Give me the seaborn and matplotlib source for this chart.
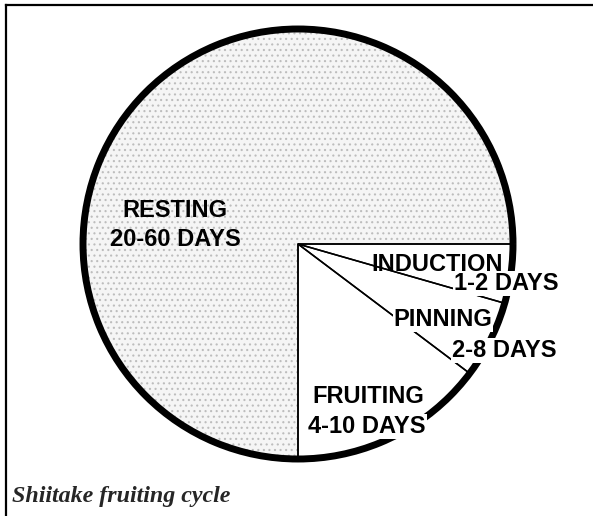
import matplotlib
matplotlib.use("Agg")
import matplotlib.pyplot as plt
import seaborn as sns
from matplotlib.patches import Arc

sns.set_theme(style="white")
plt.rcParams['hatch.linewidth'] = 0.8

# Shiitake fruiting cycle, share of circle (degrees)
stages = ['INDUCTION', 'PINNING', 'FRUITING', 'RESTING']
durations = ['1-2 DAYS', '2-8 DAYS', '4-10 DAYS', '20-60 DAYS']
share_deg = [16, 21, 53, 270]

# label baselines (stage name, duration) in pie units
name_pos = [(0.647, -0.127), (0.674, -0.381), (0.326, -0.740), (-0.572, 0.126)]
days_pos = [(0.967, -0.214), (0.958, -0.526), (0.321, -0.879), (-0.572, -0.009)]

W, H = 593, 516
fig = plt.figure(figsize=(W / 100, H / 100), dpi=100)

# outer frame: only top and left rules
frame = fig.add_axes([6 / W, 0, 1 - 6 / W, 1 - 5 / H])
frame.set_xticks([])
frame.set_yticks([])
frame.patch.set_alpha(0)
for side in ['right', 'bottom']:
    frame.spines[side].set_visible(False)
for side in ['top', 'left']:
    frame.spines[side].set_linewidth(1.6)
    frame.spines[side].set_color('black')

# pie: centre at (298, 244) px, radius 215 px
cx, cy, R = 298, 244, 215
xl, xr = -1.35, 1.35
yb, yt = -1.25, 1.1
ax = fig.add_axes([(cx + xl * R) / W, (H - (cy - yb * R)) / H,
                   (xr - xl) * R / W, (yt - yb) * R / H])

fills = ['white', 'white', 'white', '#f5f5f5']
wedges, _ = ax.pie(share_deg, startangle=0, counterclock=False, colors=fills,
                   wedgeprops=dict(linewidth=0, edgecolor='#bdbdbd'))
wedges[3].set_hatch('...')

ax.pie(share_deg, startangle=0, counterclock=False,
       wedgeprops=dict(fill=False, linewidth=1.1, edgecolor='black'))

ax.add_patch(Arc((0, 0), 2.0, 2.0, theta1=0, theta2=360,
                 linewidth=5, color='black', zorder=5))

ax.set_aspect('auto')
ax.set_xlim(xl, xr)
ax.set_ylim(yb, yt)
ax.axis('off')

lab = dict(fontfamily='Liberation Sans', fontweight='bold', fontsize=17,
           ha='center', va='baseline', color='black', zorder=10)
box = dict(facecolor='white', edgecolor='none', pad=0.6)
for i, (name, days) in enumerate(zip(stages, durations)):
    if i == 3:
        ax.text(*name_pos[i], name, **lab)
        ax.text(*days_pos[i], days, **lab)
    elif i == 0:
        ax.text(*name_pos[i], name, **lab)
        ax.text(*days_pos[i], days, bbox=box, **lab)
    else:
        ax.text(*name_pos[i], name, bbox=box, **lab)
        ax.text(*days_pos[i], days, bbox=box, **lab)

fig.text(12 / W, 1 - 502 / H, 'Shiitake fruiting cycle',
         fontfamily='Liberation Serif', fontweight='bold', fontstyle='italic',
         fontsize=17.3, ha='left', va='baseline')

fig.savefig('out.png', dpi=100)
